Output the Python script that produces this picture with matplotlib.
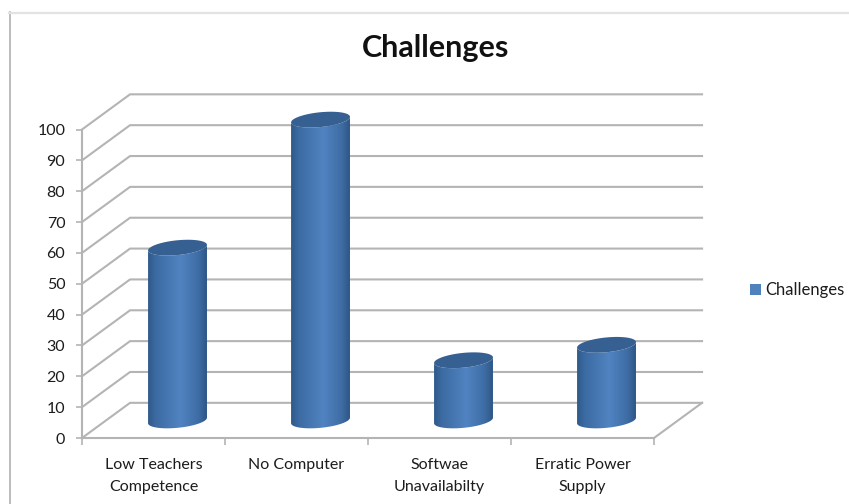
import matplotlib
matplotlib.use("Agg")
import matplotlib.pyplot as plt
import numpy as np
from matplotlib.colors import LinearSegmentedColormap
from matplotlib.patches import Polygon, Patch

categories = ["Low Teachers\nCompetence", "No Computer", "Softwae\nUnavailabilty", "Erratic Power\nSupply"]
values = [56, 97.5, 19.5, 24.5]
y_ticks = [0, 10, 20, 30, 40, 50, 60, 70, 80, 90, 100]

plt.rcParams["font.family"] = ["Lato", "DejaVu Sans"]

W, H = 849, 504
GRID = "#b4b4b4"
TEXT = "#1c1c1c"

# depth of the fake 3D box, in data units (48px right, 35px up)
DX, DY = 0.336, 11.4
HALF_W = 0.206
SKEW, MINOR = 0.9, 2.4

fig = plt.figure(figsize=(W / 100, H / 100), dpi=100)
ax = fig.add_axes([82 / W, (H - 438) / H, 572 / W, 308.5 / H])
n = len(categories)

# ── box: back wall gridlines and floor ──────────────────────────────────────
for v in y_ticks:
    ax.plot([0, DX, n + DX], [v, v + DY, v + DY], color=GRID, lw=1.5, clip_on=False, zorder=1)
ax.plot([n, n + DX], [0, DY], color=GRID, lw=1.5, clip_on=False, zorder=1)

# ── cylinders ───────────────────────────────────────────────────────────────
shade = LinearSegmentedColormap.from_list(
    "cyl", [(0, "#2f5a8b"), (0.14, "#3d6ca4"), (0.55, "#5083c1"), (0.85, "#3f6ea6"), (1, "#2e5787")]
)
grad = np.linspace(0, 1, 128).reshape(1, -1)
t_low = np.linspace(np.pi, 2 * np.pi, 60)
t_all = np.linspace(0, 2 * np.pi, 120)


def ring(cx, cy, t):
    return np.column_stack([cx + HALF_W * np.cos(t), cy + SKEW * np.cos(t) + MINOR * np.sin(t)])


for i, val in enumerate(values):
    cx = i + 0.5 + DX / 2
    base = DY / 2
    outline = np.vstack([ring(cx, base, t_low), ring(cx, base + val, t_low[::-1])])
    im = ax.imshow(
        grad, cmap=shade, aspect="auto", interpolation="bilinear", zorder=3,
        extent=(cx - HALF_W, cx + HALF_W, base - 5, base + val + 5),
    )
    # the tallest bar runs past the axes box, so clip only to the body outline
    im.set_clip_box(fig.bbox)
    im.set_clip_path(Polygon(outline, closed=True, transform=ax.transData))
    ax.add_patch(Polygon(ring(cx, base + val, t_all), closed=True, fc="#376092", ec="none", zorder=4, clip_on=False))

# ── axes ────────────────────────────────────────────────────────────────────
ax.set_xlim(0, n)
ax.set_ylim(0, 100)
ax.patch.set_visible(False)
for side in ("top", "right"):
    ax.spines[side].set_visible(False)
for side in ("left", "bottom"):
    ax.spines[side].set_color(GRID)
    ax.spines[side].set_linewidth(1.5)
ax.set_yticks(y_ticks)
ax.tick_params(axis="y", length=4, width=1.2, color=GRID, pad=8, labelsize=11.5, labelcolor=TEXT)
ax.set_xticks(range(n + 1))
ax.set_xticklabels([])
ax.tick_params(axis="x", which="major", length=5, width=1.2, color=GRID)
ax.set_xticks(np.arange(n) + 0.5, minor=True)
ax.set_xticklabels(categories, minor=True, fontsize=11.5, color=TEXT, linespacing=1.72, va="top")
ax.tick_params(axis="x", which="minor", length=0, pad=14.5)

fig.text(436 / W, 1 - 47.5 / H, "Challenges", fontsize=22, fontweight="bold", color="#111111", ha="center", va="center")

fig.legend(
    handles=[Patch(fc="#4f81bd", ec="none", label="Challenges")], loc="center left",
    bbox_to_anchor=(735 / W, 1 - 290.5 / H), frameon=False, fontsize=12, labelcolor=TEXT,
    handlelength=0.65, handleheight=0.65, handletextpad=0.25,
)

# chart frame, only left and top edges are in the crop
fig.add_artist(plt.Line2D([9.5 / W, 9.5 / W], [0, 1 - 12 / H], color="#b0b0b0", lw=1.2))
fig.add_artist(plt.Line2D([9 / W, 1], [1 - 13 / H, 1 - 13 / H], color="#e2e2e2", lw=1.6))

fig.savefig("out.png", dpi=100, facecolor="white")
plt.close(fig)
